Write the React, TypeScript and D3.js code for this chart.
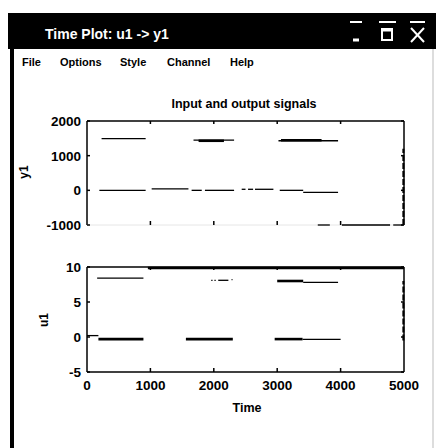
import React from "react";
import * as d3 from "d3";

// ---- data ----
const xTicks = [0, 1000, 2000, 3000, 4000, 5000];
const y1Ticks = [-1000, 0, 1000, 2000];
const u1Ticks = [-5, 0, 5, 10];

// output y1: visible horizontal runs [tStart, tEnd, value]
const y1Runs: [number, number, number][] = [
  [230, 925, 1490], [1680, 2320, 1450], [3020, 3960, 1430],
  [195, 925, 0], [1020, 1600, 40], [1650, 1810, 0], [1860, 2320, 0],
  [2440, 2500, 30], [2540, 2620, 30], [2650, 2940, 30],
  [3040, 3410, 0], [3410, 3960, -60],
  [3640, 3830, -1000], [4020, 4780, -1000], [4830, 4990, -1000],
];
const y1Dense: [number, number, number][] = [[1760, 2160, 1430], [3060, 3700, 1445]];
const y1Edge: [number, number] = [-1000, 1200];

// input u1: visible horizontal runs
const u1Runs: [number, number, number][] = [
  [160, 890, 8.4], [2070, 2230, 8.1], [1960, 1980, 8.1], [2010, 2030, 8.1], [2280, 2295, 8.2],
  [3410, 3960, 7.8], [0, 180, 0.2], [3400, 4000, -0.35],
];
const u1Dense: [number, number, number][] = [
  [960, 5000, 9.85], [3000, 3410, 8.0], [180, 890, -0.3], [1560, 2300, -0.3], [2960, 3400, -0.3],
];
const u1Edge: [number, number] = [-0.5, 8];

const W = 436, H = 448;
const FONT = "'Liberation Sans', Arial, sans-serif";

function Panel({ top, bottom, domain, ticks, runs, dense, edge, label, labelX, labelY, showBottomLine, showXLabels }: any) {
  const x = d3.scaleLinear().domain([0, 5000]).range([87, 404]);
  const y = d3.scaleLinear().domain(domain).range([bottom, top]);
  const x0 = x(0), x1 = x(5000);
  const line = d3.line<[number, number]>().x(d => x(d[0])).y(d => y(d[1]));
  return (
    <g>
      <line x1={x0} x2={x0} y1={top} y2={bottom} stroke="#000" strokeWidth={1.5} />
      <line x1={x1} x2={x1} y1={top} y2={bottom} stroke="#000" strokeWidth={1.5} />
      <line x1={x0} x2={x1} y1={top} y2={top} stroke="#000" strokeWidth={1.5} />
      <line x1={x0} x2={x1} y1={bottom} y2={bottom} stroke={showBottomLine ? "#000" : "#e6e6e6"} strokeWidth={showBottomLine ? 1.5 : 1} />
      {xTicks.slice(1, -1).map(t => (
        <g key={t}>
          <line x1={x(t)} x2={x(t)} y1={top} y2={top + 3} stroke="#000" strokeWidth={1.5} />
          <line x1={x(t)} x2={x(t)} y1={bottom} y2={bottom - 4} stroke="#000" strokeWidth={1.5} />
        </g>
      ))}
      {ticks.map((t: number) => (
        <g key={t}>
          <line x1={x0} x2={x0 + 3} y1={y(t)} y2={y(t)} stroke="#000" strokeWidth={1.5} />
          <line x1={x1} x2={x1 - 3} y1={y(t)} y2={y(t)} stroke="#000" strokeWidth={1.5} />
          <text x={81} y={y(t) + 5} textAnchor="end" fontFamily={FONT} fontWeight="bold" fontSize={13.5}>
            {String(t)}
          </text>
        </g>
      ))}
      {runs.map((r: [number, number, number], i: number) => (
        <path key={"r" + i} d={line([[r[0], r[2]], [r[1], r[2]]]) || ""} stroke="#000" strokeWidth={1.3} fill="none" />
      ))}
      {dense.map((r: [number, number, number], i: number) => (
        <path key={"d" + i} d={line([[r[0], r[2]], [r[1], r[2]]]) || ""} stroke="#000" strokeWidth={2.6} fill="none" />
      ))}
      <path d={line([[4990, edge[0]], [4990, edge[1]]]) || ""} stroke="#000" strokeWidth={2} strokeDasharray="6 2" fill="none" />
      <text transform={`translate(${labelX},${labelY}) rotate(-90)`} textAnchor="middle"
        style={{ fontFamily: FONT }} fontWeight="bold" fontSize={12}>{label}</text>
      {showXLabels && xTicks.map(t => (
        <text key={t} x={x(t)} y={bottom + 18} textAnchor="middle" fontFamily={FONT} fontWeight="bold" fontSize={13.5}>{t}</text>
      ))}
    </g>
  );
}

export default function App() {
  return (
    <svg width={W} height={H} style={{ position: "absolute", left: 0, top: 0, background: "#fff" }}>
      <rect x={0} y={0} width={W} height={H} fill="#fff" />
      <rect x={8} y={13} width={W - 8} height={36} fill="#000" />
      <rect x={10} y={13} width={4} height={H - 13} fill="#000" />
      <line x1={433} x2={433} y1={49} y2={H} stroke="#bbb" strokeWidth={1} />
      <text x={45} y={39} fill="#fff" fontFamily={FONT} fontWeight="bold" fontSize={14}>Time Plot: u1 -&gt; y1</text>
      <g stroke="#fff" fill="none" strokeWidth={2}>
        <line x1={350} x2={362} y1={22} y2={22} />
        <line x1={353} x2={359} y1={40} y2={40} strokeWidth={3} />
        <line x1={379} x2={396} y1={22} y2={22} />
        <rect x={382} y={29} width={10} height={11} />
        <line x1={382} x2={392} y1={30} y2={30} strokeWidth={3} />
        <line x1={410} x2={425} y1={22} y2={22} />
        <line x1={411} x2={424} y1={28} y2={42} />
        <line x1={424} x2={411} y1={28} y2={42} />
      </g>
      <g fontFamily={FONT} fontWeight="bold" fontSize={11}>
        <text x={22} y={66}>File</text>
        <text x={60} y={66}>Options</text>
        <text x={120} y={66}>Style</text>
        <text x={167} y={66}>Channel</text>
        <text x={230} y={66}>Help</text>
      </g>
      <text x={244} y={108} textAnchor="middle" fontFamily={FONT} fontWeight="bold" fontSize={12.5}>Input and output signals</text>
      <Panel top={121} bottom={225} domain={[-1000, 2000]} ticks={y1Ticks} runs={y1Runs} dense={y1Dense}
        edge={y1Edge} label="y1" labelX={28} labelY={172} showBottomLine={false} showXLabels={false} />
      <Panel top={267} bottom={372} domain={[-5, 10]} ticks={u1Ticks} runs={u1Runs} dense={u1Dense}
        edge={u1Edge} label="u1" labelX={48} labelY={320} showBottomLine={true} showXLabels={true} />
      <text x={247} y={412} textAnchor="middle" fontFamily={FONT} fontWeight="bold" fontSize={12.5}>Time</text>
    </svg>
  );
}
